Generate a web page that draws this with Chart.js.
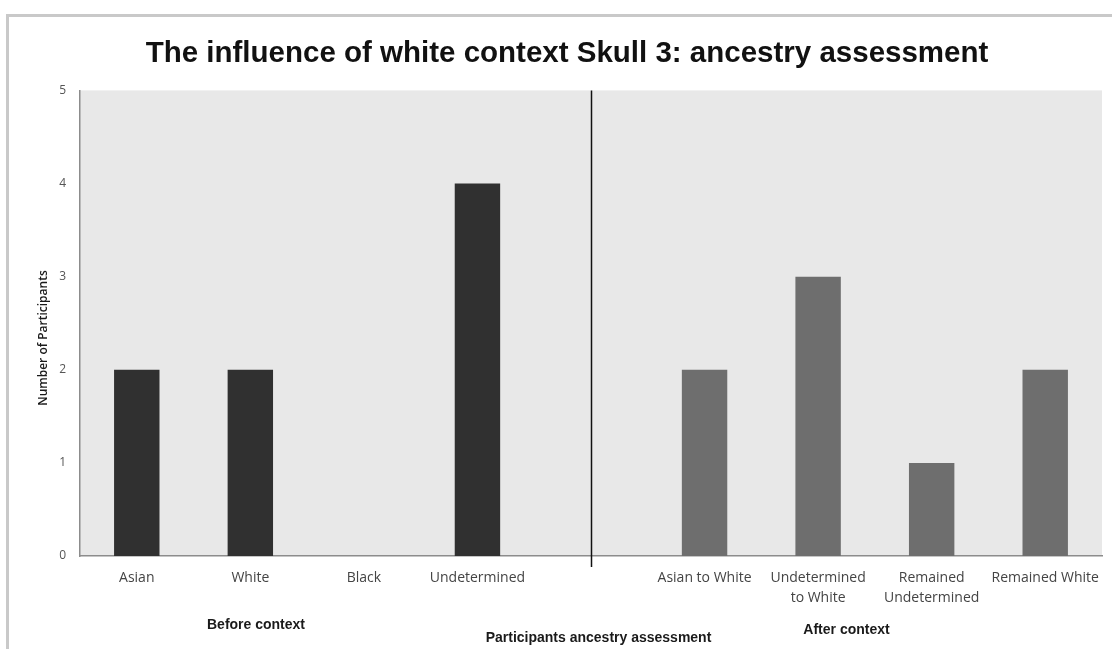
<!DOCTYPE html>
<html>
<head>
<meta charset="utf-8">
<script src="https://cdn.jsdelivr.net/npm/chart.js@4"></script>
<style>
  html, body { margin: 0; padding: 0; background: #fff; }
  #wrap { width: 1112px; height: 649px; }
</style>
</head>
<body>
<div id="wrap"><canvas id="ancestryChart" width="1112" height="649"></canvas></div>
<script>
// categories (empty slot = gap between before/after groups)
var categories = ['Asian', 'White', 'Black', 'Undetermined', '',
                  'Asian to White', ['Undetermined', 'to White'], ['Remained', 'Undetermined'], 'Remained White'];
var counts = [2, 2, 0, 4, null, 2, 3, 1, 2];
var phase = ['before', 'before', 'before', 'before', '', 'after', 'after', 'after', 'after'];
var yTicks = [0, 1, 2, 3, 4, 5];

var barColors = phase.map(function(p) { return p === 'before' ? '#303030' : '#6e6e6e'; });

// frame, plot background, separator line and group labels
var decorPlugin = {
  id: 'decor',
  beforeDraw: function(chart) {
    var ctx = chart.ctx, a = chart.chartArea;
    ctx.save();
    ctx.fillStyle = '#ffffff';
    ctx.fillRect(0, 0, chart.width, chart.height);
    ctx.strokeStyle = '#c9c9c9';
    ctx.lineWidth = 3;
    ctx.beginPath();
    ctx.moveTo(7.5, chart.height);
    ctx.lineTo(7.5, 15.5);
    ctx.lineTo(chart.width, 15.5);
    ctx.stroke();
    ctx.fillStyle = '#e8e8e8';
    ctx.fillRect(a.left, a.top, a.right - a.left, a.bottom - a.top);
    ctx.restore();
  },
  afterDatasetsDraw: function(chart) {
    var ctx = chart.ctx, a = chart.chartArea, x = chart.scales.x;
    var sepX = Math.round(x.getPixelForValue(4)) + 0.5;
    ctx.save();
    ctx.strokeStyle = '#111';
    ctx.lineWidth = 1.5;
    ctx.beginPath();
    ctx.moveTo(sepX, a.top);
    ctx.lineTo(sepX, a.bottom + 11);
    ctx.stroke();

    ctx.fillStyle = '#1a1a1a';
    ctx.font = 'bold 14px "Liberation Sans", Arial, sans-serif';
    ctx.textAlign = 'center';
    ctx.textBaseline = 'middle';
    ctx.fillText('Before context', x.getPixelForValue(1.05), 625);
    ctx.fillText('After context', x.getPixelForValue(6.25), 630);
    ctx.fillText('Participants ancestry assessment', sepX + 7, 638);

    // y axis title
    ctx.translate(44, 338);
    ctx.rotate(-Math.PI / 2);
    ctx.font = '600 12px "Open Sans", sans-serif';
    ctx.fillText('Number of Participants', 0, 0);
    ctx.restore();
  }
};

var ctx = document.getElementById('ancestryChart');
var chart = new Chart(ctx, {
  type: 'bar',
  data: {
    labels: categories,
    datasets: [{
      data: counts,
      backgroundColor: barColors,
      borderWidth: 0,
      categoryPercentage: 1.0,
      barPercentage: 0.4
    }]
  },
  plugins: [decorPlugin],
  options: {
    responsive: false,
    animation: false,
    layout: { padding: { left: 32, right: 10, top: 0, bottom: 0 } },
    plugins: {
      legend: { display: false },
      tooltip: { enabled: false },
      title: {
        display: true,
        text: 'The influence of white context Skull 3: ancestry assessment',
        color: '#111',
        font: { family: '"Liberation Sans", Arial, sans-serif', size: 29.5, weight: 'bold', lineHeight: 1.2 },
        padding: { top: 36, bottom: 19 }
      }
    },
    scales: {
      x: {
        grid: { display: false, drawTicks: false },
        border: { display: true, color: '#8c8c8c', width: 1.5 },
        ticks: {
          color: '#444',
          font: { family: '"Open Sans", sans-serif', size: 14, lineHeight: 1.42 },
          padding: 12,
          maxRotation: 0,
          autoSkip: false
        },
        afterFit: function(scale) { scale.height = 93; }
      },
      y: {
        min: 0,
        max: 5,
        afterBuildTicks: function(scale) {
          scale.ticks = yTicks.map(function(v) { return { value: v }; });
        },
        grid: { display: false, drawTicks: false },
        border: { display: true, color: '#8c8c8c', width: 1.5 },
        ticks: {
          color: '#555',
          font: { family: '"Open Sans", sans-serif', size: 12 },
          padding: 14
        },
        afterFit: function(scale) { scale.width = 48; }
      }
    }
  }
});
</script>
</body>
</html>
